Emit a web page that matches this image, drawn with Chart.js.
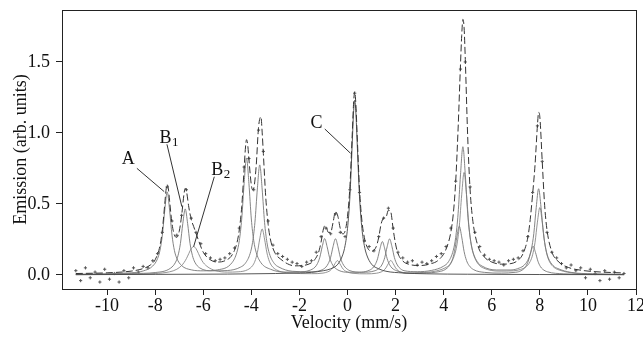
<!DOCTYPE html>
<html>
<head>
<meta charset="utf-8">
<script src="https://cdn.jsdelivr.net/npm/chart.js@4.4.0/dist/chart.umd.min.js"></script>
<style>
  html, body { margin: 0; background: #fff; }
  #wrap { width: 643px; height: 337px; }
</style>
</head>
<body>
<div id="wrap"><canvas id="spectrum"></canvas></div>
<script>
"use strict";

// ---- data (velocity in mm/s, emission in arb. units) ----
const xTicks = [-10, -8, -6, -4, -2, 0, 2, 4, 6, 8, 10, 12];
const yTicks = [0, 0.5, 1.0, 1.5];

// total fit (dashed)
const fitTotal = [
  [-11.3, 0.01], [-10, 0.015], [-9, 0.027], [-8.5, 0.045], [-8.2, 0.07], [-8.0, 0.107],
  [-7.8, 0.206], [-7.7, 0.318], [-7.6, 0.502], [-7.55, 0.595], [-7.5, 0.637], [-7.45, 0.606],
  [-7.4, 0.522], [-7.3, 0.363], [-7.2, 0.281], [-7.1, 0.265], [-7.0, 0.307], [-6.9, 0.417],
  [-6.8, 0.571], [-6.75, 0.61], [-6.7, 0.592], [-6.6, 0.477], [-6.5, 0.391], [-6.4, 0.342],
  [-6.2, 0.245], [-6.0, 0.16], [-5.7, 0.106], [-5.4, 0.091], [-5.1, 0.10], [-4.8, 0.141],
  [-4.6, 0.225], [-4.5, 0.318], [-4.4, 0.48], [-4.3, 0.747], [-4.25, 0.884], [-4.2, 0.953],
  [-4.15, 0.916], [-4.1, 0.813], [-4.0, 0.634], [-3.95, 0.60], [-3.9, 0.61], [-3.8, 0.763],
  [-3.7, 1.04], [-3.6, 1.114], [-3.55, 1.006], [-3.5, 0.855], [-3.4, 0.547], [-3.3, 0.355],
  [-3.2, 0.246], [-3.0, 0.15], [-2.8, 0.114], [-2.5, 0.079], [-2.2, 0.064], [-1.9, 0.066],
  [-1.6, 0.077], [-1.4, 0.10], [-1.2, 0.161], [-1.1, 0.231], [-1.0, 0.325], [-0.95, 0.345],
  [-0.9, 0.345], [-0.8, 0.30], [-0.7, 0.30], [-0.6, 0.37], [-0.5, 0.447], [-0.4, 0.413],
  [-0.3, 0.327], [-0.2, 0.289], [-0.1, 0.309], [0, 0.412], [0.1, 0.622], [0.2, 1.003],
  [0.25, 1.2], [0.3, 1.29], [0.35, 1.197], [0.4, 0.995], [0.5, 0.606], [0.6, 0.38],
  [0.7, 0.265], [0.8, 0.203], [1.0, 0.166], [1.2, 0.201], [1.3, 0.266], [1.4, 0.36],
  [1.5, 0.40], [1.6, 0.406], [1.7, 0.455], [1.8, 0.443], [1.9, 0.322], [2.0, 0.217],
  [2.1, 0.151], [2.3, 0.098], [2.6, 0.073], [3.0, 0.066], [3.4, 0.076], [3.8, 0.107],
  [4.1, 0.182], [4.3, 0.303], [4.4, 0.429], [4.5, 0.657], [4.6, 1.028], [4.7, 1.482],
  [4.75, 1.685], [4.8, 1.80], [4.85, 1.74], [4.9, 1.517], [5.0, 0.971], [5.1, 0.599],
  [5.2, 0.399], [5.4, 0.218], [5.7, 0.125], [6.0, 0.091], [6.4, 0.076], [6.8, 0.08],
  [7.1, 0.104], [7.3, 0.15], [7.5, 0.264], [7.6, 0.39], [7.7, 0.569], [7.8, 0.773],
  [7.9, 1.053], [7.95, 1.145], [8.0, 1.113], [8.1, 0.798], [8.2, 0.49], [8.3, 0.315],
  [8.5, 0.163], [8.8, 0.09], [9.2, 0.052], [9.8, 0.031], [10.5, 0.021], [11.5, 0.014]
];

// sextet A
const compA = [
  [-11.3, 0.005], [-10, 0.008], [-9, 0.015], [-8.5, 0.028], [-8.1, 0.063], [-7.9, 0.115],
  [-7.8, 0.173], [-7.7, 0.281], [-7.6, 0.457], [-7.5, 0.585], [-7.4, 0.457], [-7.3, 0.281],
  [-7.2, 0.173], [-7.1, 0.117], [-6.9, 0.066], [-6.5, 0.036], [-6.0, 0.029], [-5.4, 0.036],
  [-4.8, 0.087], [-4.6, 0.16], [-4.5, 0.242], [-4.4, 0.394], [-4.3, 0.644], [-4.2, 0.824],
  [-4.1, 0.644], [-4.0, 0.394], [-3.9, 0.242], [-3.8, 0.16], [-3.6, 0.086], [-3.2, 0.04],
  [-2.6, 0.02], [-2.0, 0.021], [-1.6, 0.031], [-1.35, 0.055], [-1.25, 0.08], [-1.15, 0.125],
  [-1.05, 0.2], [-0.95, 0.256], [-0.85, 0.2], [-0.75, 0.125], [-0.65, 0.08], [-0.55, 0.055],
  [-0.35, 0.031], [0, 0.019], [0.5, 0.019], [0.85, 0.029], [1.05, 0.049], [1.15, 0.072],
  [1.25, 0.114], [1.35, 0.184], [1.45, 0.235], [1.55, 0.184], [1.65, 0.114], [1.75, 0.072],
  [1.85, 0.049], [2.05, 0.029], [2.6, 0.013], [3.2, 0.014], [3.8, 0.023], [4.05, 0.037],
  [4.25, 0.068], [4.35, 0.102], [4.45, 0.165], [4.55, 0.268], [4.65, 0.343], [4.75, 0.268],
  [4.85, 0.165], [4.95, 0.102], [5.05, 0.068], [5.25, 0.037], [5.7, 0.018], [6.4, 0.013],
  [7.0, 0.019], [7.12, 0.023], [7.32, 0.041], [7.42, 0.061], [7.52, 0.098], [7.62, 0.158],
  [7.72, 0.202], [7.82, 0.158], [7.92, 0.097], [8.02, 0.06], [8.12, 0.04], [8.32, 0.022],
  [9, 0.008], [10, 0.004], [11.5, 0.002]
];

// sextet B1
const compB1 = [
  [-11.3, 0.003], [-10, 0.005], [-9, 0.01], [-8, 0.017], [-7.35, 0.049], [-7.15, 0.09],
  [-7.05, 0.136], [-6.95, 0.221], [-6.85, 0.362], [-6.75, 0.465], [-6.65, 0.362], [-6.55, 0.222],
  [-6.45, 0.137], [-6.35, 0.09], [-6.15, 0.05], [-5.6, 0.029], [-5.0, 0.031], [-4.45, 0.055],
  [-4.25, 0.082], [-4.05, 0.151], [-3.95, 0.228], [-3.85, 0.371], [-3.75, 0.605], [-3.65, 0.775],
  [-3.55, 0.605], [-3.45, 0.371], [-3.35, 0.228], [-3.25, 0.151], [-3.05, 0.082], [-2.85, 0.055],
  [-2.3, 0.026], [-1.6, 0.022], [-1.1, 0.033], [-0.9, 0.055], [-0.8, 0.08], [-0.7, 0.125],
  [-0.6, 0.2], [-0.5, 0.255], [-0.4, 0.2], [-0.3, 0.125], [-0.2, 0.08], [-0.1, 0.055],
  [0.1, 0.03], [0.6, 0.019], [1.15, 0.03], [1.35, 0.052], [1.45, 0.077], [1.55, 0.123],
  [1.65, 0.199], [1.75, 0.254], [1.85, 0.199], [1.95, 0.123], [2.05, 0.077], [2.15, 0.052],
  [2.35, 0.03], [2.9, 0.023], [3.5, 0.032], [4.0, 0.062], [4.2, 0.093], [4.4, 0.174],
  [4.5, 0.264], [4.6, 0.431], [4.7, 0.705], [4.8, 0.903], [4.9, 0.705], [5.0, 0.431],
  [5.1, 0.264], [5.2, 0.174], [5.4, 0.093], [5.6, 0.062], [6.2, 0.035], [6.8, 0.035],
  [7.15, 0.049], [7.35, 0.069], [7.55, 0.122], [7.65, 0.182], [7.75, 0.292], [7.85, 0.475],
  [7.95, 0.607], [8.05, 0.475], [8.15, 0.292], [8.25, 0.182], [8.35, 0.121], [8.55, 0.066],
  [8.75, 0.045], [9.3, 0.018], [10.2, 0.008], [11.5, 0.004]
];

// sextet B2
const compB2 = [
  [-11.3, 0.002], [-10, 0.004], [-9, 0.005], [-8, 0.01], [-7.4, 0.022], [-7.1, 0.04],
  [-6.9, 0.066], [-6.8, 0.087], [-6.7, 0.115], [-6.6, 0.151], [-6.5, 0.185], [-6.4, 0.2],
  [-6.3, 0.185], [-6.2, 0.151], [-6.1, 0.115], [-6.0, 0.087], [-5.8, 0.055], [-5.5, 0.031],
  [-5.0, 0.02], [-4.55, 0.022], [-4.15, 0.037], [-3.95, 0.065], [-3.85, 0.097], [-3.75, 0.156],
  [-3.65, 0.254], [-3.55, 0.324], [-3.45, 0.253], [-3.35, 0.155], [-3.25, 0.096], [-3.15, 0.064],
  [-2.95, 0.035], [-2.4, 0.014], [-1.5, 0.009], [-1.02, 0.013], [-0.82, 0.022], [-0.72, 0.031],
  [-0.62, 0.05], [-0.52, 0.08], [-0.42, 0.101], [-0.32, 0.08], [-0.22, 0.05], [-0.12, 0.031],
  [-0.02, 0.022], [0.18, 0.012], [0.8, 0.008], [1.2, 0.012], [1.4, 0.021], [1.5, 0.031],
  [1.6, 0.05], [1.7, 0.08], [1.8, 0.102], [1.9, 0.08], [2.0, 0.05], [2.1, 0.031],
  [2.2, 0.021], [2.4, 0.012], [3.0, 0.016], [3.6, 0.025], [4.05, 0.049], [4.25, 0.074],
  [4.45, 0.139], [4.55, 0.211], [4.65, 0.344], [4.75, 0.564], [4.85, 0.722], [4.95, 0.564],
  [5.05, 0.344], [5.15, 0.211], [5.25, 0.139], [5.45, 0.074], [5.65, 0.049], [6.3, 0.027],
  [6.9, 0.029], [7.2, 0.039], [7.4, 0.054], [7.6, 0.095], [7.7, 0.142], [7.8, 0.229],
  [7.9, 0.372], [8.0, 0.475], [8.1, 0.372], [8.2, 0.228], [8.3, 0.141], [8.4, 0.094],
  [8.6, 0.052], [8.8, 0.035], [9.5, 0.011], [10.5, 0.005], [11.5, 0.003]
];

// line C
const compC = [
  [-11.3, 0.002], [-8, 0.004], [-5, 0.006], [-3, 0.01], [-2, 0.014], [-1.5, 0.018],
  [-1, 0.03], [-0.7, 0.043], [-0.4, 0.076], [-0.2, 0.141], [-0.1, 0.207], [0, 0.326],
  [0.1, 0.551], [0.2, 0.94], [0.25, 1.14], [0.3, 1.23], [0.35, 1.14], [0.4, 0.94],
  [0.5, 0.551], [0.6, 0.326], [0.7, 0.207], [0.8, 0.141], [1.0, 0.076], [1.3, 0.043],
  [1.6, 0.026], [2.3, 0.014], [3.3, 0.008], [5, 0.005], [8, 0.003], [11.5, 0.002]
];

// measured counts
const measured = [
  [-11.3, 0.03], [-11.1, -0.04], [-10.9, 0.05], [-10.7, -0.02], [-10.5, 0.02], [-10.3, -0.05],
  [-10.1, 0.04], [-9.9, -0.03], [-9.7, 0.01], [-9.5, -0.05], [-9.3, 0.03], [-9.1, -0.02],
  [-8.9, 0.05], [-8.7, 0.02], [-8.5, 0.06], [-8.3, 0.05], [-8.1, 0.1], [-7.9, 0.15],
  [-7.7, 0.3], [-7.5, 0.62], [-7.3, 0.38], [-7.1, 0.28], [-6.9, 0.42], [-6.7, 0.6],
  [-6.5, 0.4], [-6.3, 0.3], [-6.1, 0.22], [-5.9, 0.15], [-5.7, 0.12], [-5.5, 0.1],
  [-5.3, 0.11], [-5.1, 0.12], [-4.9, 0.15], [-4.7, 0.19], [-4.5, 0.33], [-4.3, 0.76],
  [-4.1, 0.82], [-3.9, 0.6], [-3.7, 1.02], [-3.5, 0.87], [-3.3, 0.38], [-3.1, 0.21],
  [-2.9, 0.15], [-2.7, 0.13], [-2.5, 0.11], [-2.3, 0.09], [-2.1, 0.08], [-1.9, 0.06],
  [-1.7, 0.09], [-1.5, 0.1], [-1.3, 0.16], [-1.1, 0.27], [-0.9, 0.33], [-0.7, 0.29],
  [-0.5, 0.43], [-0.3, 0.3], [-0.1, 0.27], [0.1, 0.6], [0.3, 1.28], [0.5, 0.58],
  [0.7, 0.24], [0.9, 0.2], [1.1, 0.17], [1.3, 0.27], [1.5, 0.4], [1.7, 0.47],
  [1.9, 0.33], [2.1, 0.16], [2.3, 0.12], [2.5, 0.09], [2.7, 0.1], [2.9, 0.07],
  [3.1, 0.09], [3.3, 0.08], [3.5, 0.1], [3.7, 0.13], [3.9, 0.15], [4.1, 0.2],
  [4.3, 0.33], [4.5, 0.66], [4.7, 1.45], [4.9, 1.5], [5.1, 0.62], [5.3, 0.3],
  [5.5, 0.2], [5.7, 0.14], [5.9, 0.11], [6.1, 0.1], [6.3, 0.09], [6.5, 0.07],
  [6.7, 0.1], [6.9, 0.11], [7.1, 0.12], [7.3, 0.17], [7.5, 0.27], [7.7, 0.58],
  [7.9, 1.05], [8.1, 0.8], [8.3, 0.3], [8.5, 0.16], [8.7, 0.12], [8.9, 0.08],
  [9.1, 0.05], [9.3, 0.07], [9.5, 0.03], [9.7, 0.05], [9.9, -0.02], [10.1, 0.04],
  [10.3, 0.01], [10.5, -0.04], [10.7, 0.03], [10.9, -0.03], [11.1, 0.02], [11.3, -0.02],
  [11.5, 0.01]
];

// peak labels with leader lines (data coordinates)
const peakLabels = [
  { text: "A", sub: "", at: [-9.39, 0.782], from: [-8.76, 0.751], to: [-7.625, 0.587] },
  { text: "B", sub: "1", at: [-7.82, 0.932], from: [-7.51, 0.92], to: [-6.89, 0.481] },
  { text: "B", sub: "2", at: [-5.667, 0.704], from: [-5.54, 0.692], to: [-6.40, 0.199] },
  { text: "C", sub: "", at: [-1.54, 1.033], from: [-0.945, 1.028], to: [0.125, 0.857] }
];

// ---- drawing ----
const INK = "#111";
const SERIF = "'Liberation Serif', 'Times New Roman', serif";
const pts = (arr) => arr.map(([x, y]) => ({ x, y }));

function curve(data, extra) {
  return Object.assign({
    data: pts(data), showLine: true, pointRadius: 0, borderWidth: 0.9,
    borderColor: "#777", cubicInterpolationMode: "monotone", fill: false
  }, extra || {});
}

const framePlugin = {
  id: "frame",
  afterDraw(chart) {
    const { ctx, chartArea: a, scales: { x, y } } = chart;
    ctx.save();
    ctx.strokeStyle = "#222";
    ctx.lineWidth = 1;
    ctx.strokeRect(Math.round(a.left) + 0.5, Math.round(a.top) + 0.5,
      Math.round(a.right - a.left), Math.round(a.bottom - a.top));

    ctx.fillStyle = INK;
    ctx.strokeStyle = "#333";
    ctx.textBaseline = "alphabetic";
    ctx.textAlign = "left";
    peakLabels.forEach((l) => {
      ctx.beginPath();
      ctx.moveTo(x.getPixelForValue(l.from[0]), y.getPixelForValue(l.from[1]));
      ctx.lineTo(x.getPixelForValue(l.to[0]), y.getPixelForValue(l.to[1]));
      ctx.stroke();
      const px = x.getPixelForValue(l.at[0]), py = y.getPixelForValue(l.at[1]);
      ctx.font = "18px " + SERIF;
      ctx.fillText(l.text, px, py);
      if (l.sub) {
        const w = ctx.measureText(l.text).width;
        ctx.font = "13px " + SERIF;
        ctx.fillText(l.sub, px + w + 0.5, py + 3);
      }
    });
    ctx.restore();
  }
};

new Chart(document.getElementById("spectrum"), {
  type: "scatter",
  data: {
    datasets: [
      curve(fitTotal, { borderColor: "#333", borderWidth: 1, borderDash: [7, 3] }),
      curve(compC, { borderColor: "#444" }),
      curve(compA),
      curve(compB1),
      curve(compB2, { borderColor: "#888" }),
      { data: pts(measured), pointStyle: "cross", pointRadius: 1.6, borderWidth: 1,
        borderColor: "#555", showLine: false }
    ]
  },
  options: {
    responsive: true,
    maintainAspectRatio: false,
    animation: false,
    layout: { padding: { top: 10, right: 7, left: 0, bottom: 0 } },
    plugins: { legend: { display: false }, tooltip: { enabled: false } },
    scales: {
      x: {
        type: "linear", min: -11.875, max: 12,
        afterBuildTicks: (s) => { s.ticks = xTicks.map((v) => ({ value: v })); },
        afterFit: (s) => { s.height = 48; s.paddingLeft = 0; s.paddingRight = 0; },
        grid: { drawOnChartArea: false, tickLength: 6, tickColor: "#222" },
        border: { display: false },
        ticks: { color: INK, font: { family: SERIF, size: 18 }, padding: 0, maxRotation: 0,
          callback: (v) => String(v) },
        title: { display: true, text: "Velocity (mm/s)", color: INK,
          font: { family: SERIF, size: 18 }, padding: { top: 0, bottom: 3 } }
      },
      y: {
        type: "linear", min: -0.099, max: 1.866,
        afterBuildTicks: (s) => { s.ticks = yTicks.map((v) => ({ value: v })); },
        afterFit: (s) => { s.width = 62; s.paddingTop = 0; s.paddingBottom = 0; },
        grid: { drawOnChartArea: false, tickLength: 6, tickColor: "#222" },
        border: { display: false },
        ticks: { color: INK, font: { family: SERIF, size: 18 }, padding: 6,
          callback: (v) => Number(v).toFixed(1) },
        title: { display: true, text: "Emission (arb. units)", color: INK,
          font: { family: SERIF, size: 18 }, padding: { top: 10, bottom: 0 } }
      }
    }
  },
  plugins: [framePlugin]
});
</script>
</body>
</html>
